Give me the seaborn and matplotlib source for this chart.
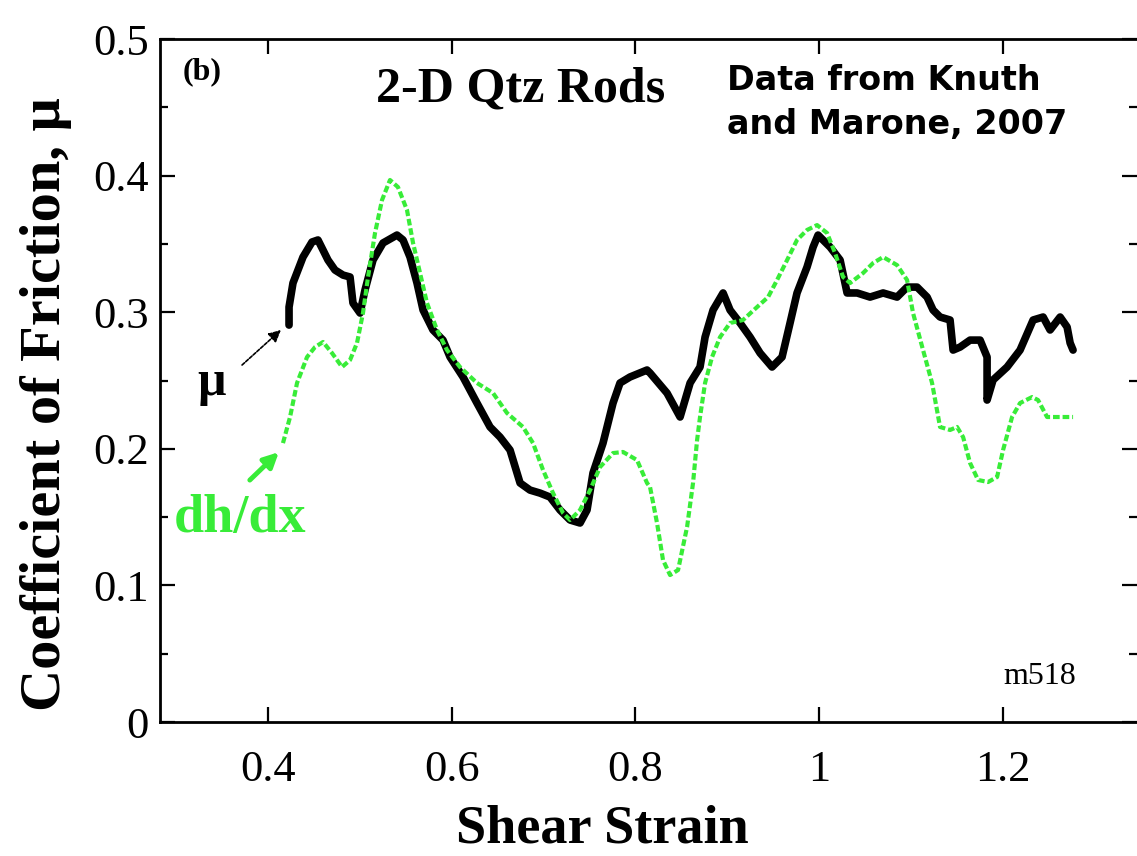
import numpy as np
import pandas as pd
import seaborn as sns
import matplotlib.pyplot as plt
from matplotlib.ticker import MultipleLocator

# friction coefficient (black)
mu_x = [0.4229, 0.4229, 0.4272, 0.4381, 0.4479, 0.4544, 0.4599, 0.4653, 0.4729, 0.4817,
        0.4893, 0.4925, 0.5002, 0.5056, 0.5143, 0.5252, 0.5404, 0.5470, 0.5546, 0.5622,
        0.5688, 0.5796, 0.5905, 0.5982, 0.6123, 0.6275, 0.6417, 0.6526, 0.6635, 0.6744,
        0.6852, 0.6961, 0.7070, 0.7179, 0.7288, 0.7397, 0.7473, 0.7538, 0.7647, 0.7756,
        0.7832, 0.7941, 0.8126, 0.8159, 0.8344, 0.8486, 0.8595, 0.8703, 0.8758, 0.8845,
        0.8954, 0.9030, 0.9139, 0.9248, 0.9357, 0.9487, 0.9596, 0.9683, 0.9759, 0.9868,
        0.9934, 0.9988, 1.0119, 1.0228, 1.0304, 1.0413, 1.0554, 1.0696, 1.0848, 1.0957,
        1.1066, 1.1175, 1.1240, 1.1316, 1.1425, 1.1458, 1.1534, 1.1643, 1.1752, 1.1828,
        1.1828, 1.1893, 1.2046, 1.2187, 1.2329, 1.2438, 1.2514, 1.2623, 1.2699, 1.2732,
        1.2764]
mu_y = [0.2906, 0.3038, 0.3214, 0.3404, 0.3514, 0.3529, 0.3455, 0.3382, 0.3309, 0.3272,
        0.3258, 0.3067, 0.2994, 0.3163, 0.3382, 0.3507, 0.3565, 0.3529, 0.3404, 0.3214,
        0.3016, 0.2870, 0.2796, 0.2672, 0.2526, 0.2335, 0.2160, 0.2086, 0.1991, 0.1750,
        0.1698, 0.1676, 0.1647, 0.1552, 0.1479, 0.1457, 0.1552, 0.1823, 0.2042, 0.2335,
        0.2482, 0.2526, 0.2577, 0.2555, 0.2408, 0.2233, 0.2482, 0.2599, 0.2818, 0.3016,
        0.3141, 0.3016, 0.2921, 0.2818, 0.2701, 0.2599, 0.2672, 0.2921, 0.3141, 0.3331,
        0.3477, 0.3565, 0.3477, 0.3382, 0.3141, 0.3141, 0.3111, 0.3141, 0.3111, 0.3184,
        0.3184, 0.3111, 0.3016, 0.2965, 0.2943, 0.2723, 0.2745, 0.2796, 0.2796, 0.2672,
        0.2357, 0.2504, 0.2599, 0.2723, 0.2943, 0.2965, 0.2870, 0.2965, 0.2892, 0.2775,
        0.2723]

# dilatancy slope dh/dx (green)
dh_x = [0.4163, 0.4240, 0.4316, 0.4425, 0.4512, 0.4599, 0.4697, 0.4806, 0.4893, 0.4969,
        0.5034, 0.5089, 0.5165, 0.5241, 0.5328, 0.5415, 0.5513, 0.5579, 0.5655, 0.5731,
        0.5840, 0.5949, 0.6090, 0.6275, 0.6450, 0.6602, 0.6776, 0.6885, 0.6994, 0.7103,
        0.7212, 0.7288, 0.7397, 0.7506, 0.7615, 0.7756, 0.7865, 0.8017, 0.8126, 0.8159,
        0.8235, 0.8300, 0.8377, 0.8464, 0.8562, 0.8627, 0.8671, 0.8703, 0.8758, 0.8834,
        0.8921, 0.9030, 0.9171, 0.9324, 0.9444, 0.9542, 0.9651, 0.9759, 0.9868, 0.9977,
        1.0086, 1.0173, 1.0260, 1.0337, 1.0478, 1.0587, 1.0696, 1.0848, 1.0957, 1.1022,
        1.1131, 1.1229, 1.1316, 1.1425, 1.1501, 1.1567, 1.1643, 1.1730, 1.1839, 1.1937,
        1.2002, 1.2100, 1.2187, 1.2318, 1.2383, 1.2481, 1.2623, 1.2764]
dh_y = [0.2042, 0.2233, 0.2482, 0.2672, 0.2745, 0.2782, 0.2701, 0.2599, 0.2650, 0.2775,
        0.2994, 0.3258, 0.3580, 0.3821, 0.3968, 0.3916, 0.3748, 0.3507, 0.3287, 0.3067,
        0.2870, 0.2723, 0.2599, 0.2482, 0.2408, 0.2262, 0.2160, 0.2042, 0.1845, 0.1676,
        0.1530, 0.1479, 0.1552, 0.1698, 0.1867, 0.1969, 0.1977, 0.1918, 0.1750, 0.1720,
        0.1457, 0.1186, 0.1076, 0.1113, 0.1428, 0.1750, 0.2064, 0.2233, 0.2482, 0.2672,
        0.2818, 0.2921, 0.2943, 0.3038, 0.3111, 0.3236, 0.3382, 0.3529, 0.3602, 0.3638,
        0.3580, 0.3433, 0.3258, 0.3214, 0.3287, 0.3360, 0.3404, 0.3345, 0.3236, 0.2994,
        0.2723, 0.2482, 0.2160, 0.2138, 0.2160, 0.2086, 0.1896, 0.1772, 0.1757, 0.1794,
        0.1991, 0.2233, 0.2335, 0.2379, 0.2357, 0.2233, 0.2233, 0.2233]

x_ticks = [0.4, 0.6, 0.8, 1.0, 1.2]
x_tick_labels = ['0.4', '0.6', '0.8', '1', '1.2']
y_ticks = [0, 0.1, 0.2, 0.3, 0.4, 0.5]
y_tick_labels = ['0', '0.1', '0.2', '0.3', '0.4', '0.5']

GREEN = '#38ec38'
SERIF = ['Liberation Serif', 'DejaVu Serif']

sns.set_theme(style='ticks')
plt.rcParams['font.family'] = SERIF
plt.rcParams.update({'text.color': 'black', 'axes.labelcolor': 'black',
                     'xtick.color': 'black', 'ytick.color': 'black',
                     'axes.edgecolor': 'black'})

fig = plt.figure(figsize=(11.37, 8.56), dpi=100)
ax = fig.add_axes([0.1407, 0.1565, 0.8593, 0.7979])

sns.lineplot(x=mu_x, y=mu_y, sort=False, estimator=None, color='black',
             linewidth=5.5, ax=ax)
sns.lineplot(x=dh_x, y=dh_y, sort=False, estimator=None, color=GREEN,
             linewidth=3, linestyle=(0, (1.6, 0.7)), ax=ax)

ax.set_xlim(0.2824, 1.346)
ax.set_ylim(0, 0.5)
ax.set_xticks(x_ticks)
ax.set_xticklabels(x_tick_labels)
ax.set_yticks(y_ticks)
ax.set_yticklabels(y_tick_labels)
ax.yaxis.set_minor_locator(MultipleLocator(0.05))

for s in ['left', 'bottom', 'top']:
    ax.spines[s].set_linewidth(2)
ax.spines['right'].set_visible(False)

ax.tick_params(axis='both', which='major', direction='in', length=11, width=1.6,
               top=True, right=True, labelsize=32)
ax.tick_params(axis='y', which='minor', direction='in', length=6, width=1.6,
               right=True, left=True)
ax.tick_params(axis='x', pad=20)
ax.tick_params(axis='y', pad=8)

ax.set_xlabel('Shear Strain', fontsize=39, fontweight='bold', va='center')
ax.set_ylabel('Coefficient of Friction, μ', fontsize=42, fontweight='bold', va='center')
ax.xaxis.set_label_coords(0.453, -0.158)
ax.yaxis.set_label_coords(-0.117, 0.466)

ax.text(0.328, 0.476, '(b)', fontsize=23, fontweight='bold', ha='center', va='center')
ax.text(0.6755, 0.4627, '2-D Qtz Rods', fontsize=36, fontweight='bold',
        ha='center', va='center')
ax.text(0.8997, 0.4815, 'Data from Knuth\nand Marone, 2007', fontsize=24,
        fontweight='bold', family=['DejaVu Sans'], ha='left', va='top',
        linespacing=1.4)
ax.text(1.2405, 0.033, 'm518', fontsize=23, ha='center', va='center')

ax.text(0.339, 0.248, 'μ', fontsize=36, fontweight='bold', ha='center', va='center')
ax.annotate('', xy=(0.4163, 0.2884), xytext=(0.3695, 0.2600),
            arrowprops=dict(arrowstyle='-|>', color='black', lw=1.2,
                            linestyle=(0, (2, 1)), mutation_scale=18))
ax.text(0.3695, 0.149, 'dh/dx', fontsize=39, fontweight='bold', color=GREEN,
        ha='center', va='center')
ax.annotate('', xy=(0.4140, 0.1990), xytext=(0.3780, 0.1757),
            arrowprops=dict(arrowstyle='-|>', color=GREEN, lw=3.5, mutation_scale=22))

fig.savefig('out.png', dpi=100)
